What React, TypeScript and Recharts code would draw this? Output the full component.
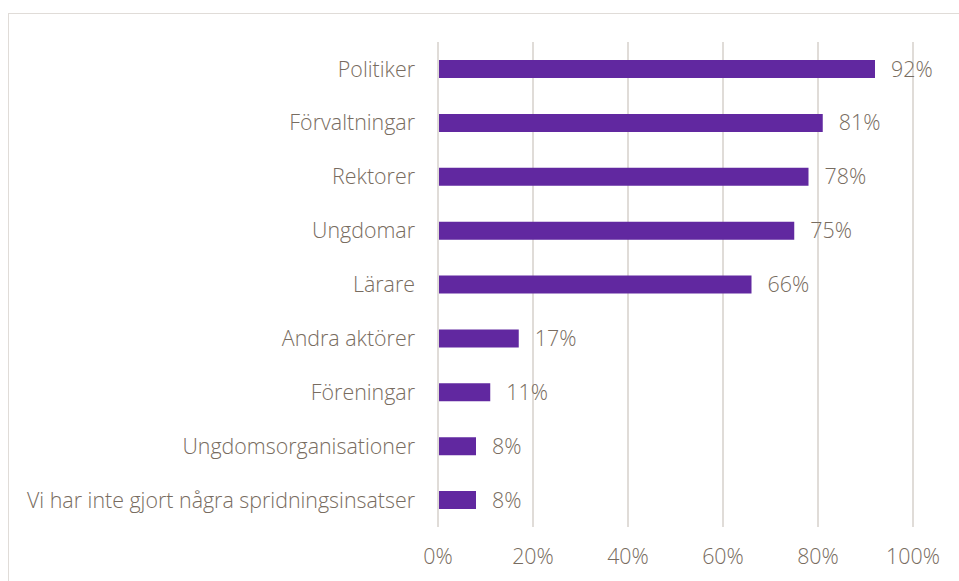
import { BarChart, Bar, XAxis, YAxis, CartesianGrid, LabelList } from 'recharts'

const CATEGORIES = [
  'Politiker',
  'Förvaltningar',
  'Rektorer',
  'Ungdomar',
  'Lärare',
  'Andra aktörer',
  'Föreningar',
  'Ungdomsorganisationer',
  'Vi har inte gjort några spridningsinsatser',
]
const VALUES = [92, 81, 78, 75, 66, 17, 11, 8, 8]
const X_TICKS = [0, 20, 40, 60, 80, 100]

const TEXT = '#786c60'
const GRID = '#e0dcd8'
const BAR = '#6128a0'
const FONT = '"Open Sans", Lato, sans-serif'
const FS = 21.4

const data = CATEGORIES.map((name, i) => ({ name, value: VALUES[i] }))

export default function App() {
  return (
    <div style={{ position: 'absolute', left: 0, top: 0, width: 959, height: 581, background: '#fff', overflow: 'hidden', fontFamily: FONT }}>
      <div style={{ position: 'absolute', left: 8, top: 13, width: 960, height: 600, borderLeft: `1px solid ${GRID}`, borderTop: `1px solid ${GRID}` }} />
      <BarChart
        width={959}
        height={581}
        data={data}
        layout="vertical"
        margin={{ top: 42, right: 46, left: 0, bottom: 0 }}
        barSize={18}
        style={{ position: 'absolute', left: 0, top: 0 }}
      >
        <CartesianGrid horizontal={false} stroke={GRID} strokeWidth={2} />
        <XAxis
          type="number"
          domain={[0, 100]}
          ticks={X_TICKS}
          tickFormatter={(v) => `${v}%`}
          axisLine={false}
          tickLine={false}
          tickSize={0}
          tickMargin={22}
          height={54}
          tick={{ fill: TEXT, fontSize: FS, fontWeight: 300, fontFamily: FONT }}
        />
        <YAxis
          type="category"
          dataKey="name"
          width={438}
          axisLine={{ stroke: GRID, strokeWidth: 2 }}
          tickLine={false}
          tickSize={0}
          tickMargin={23}
          interval={0}
          tick={{ fill: TEXT, fontSize: FS, fontWeight: 300, fontFamily: FONT }}
        />
        <Bar dataKey="value" fill={BAR} isAnimationActive={false}>
          <LabelList
            dataKey="value"
            position="right"
            offset={16}
            formatter={(v: number) => `${v}%`}
            style={{ fill: TEXT, fontSize: FS, fontWeight: 300, fontFamily: FONT }}
          />
        </Bar>
      </BarChart>
    </div>
  )
}
